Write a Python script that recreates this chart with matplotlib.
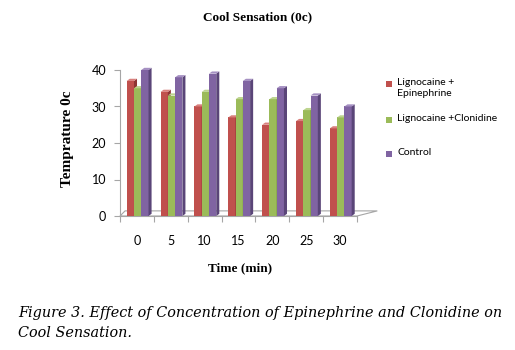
import numpy as np
import matplotlib
matplotlib.use("Agg")
import matplotlib.pyplot as plt
from matplotlib.patches import Rectangle, Polygon

times = ["0", "5", "10", "15", "20", "25", "30"]
series_names = ["Lignocaine +\nEpinephrine", "Lignocaine +Clonidine", "Control"]
epinephrine = [37, 34, 30, 27, 25, 26, 24]
clonidine = [35, 33, 34, 32, 32, 29, 27]
control = [40, 38, 39, 37, 35, 33, 30]
colors = ["#C0504D", "#9BBB59", "#8064A2"]
dark = ["#8E3533", "#6F8A3C", "#5A4578"]
top = ["#D9807D", "#BDD48F", "#A590C2"]

fig = plt.figure(figsize=(5.15, 3.5), dpi=100)
ax = fig.add_axes([120 / 515, 1 - 216 / 350, 237 / 515, 146 / 350])

x = np.arange(len(times))
w = 0.215
depth = 0.09   # fake 3d side width (in category units)
rise = 0.6     # fake 3d top rise (in data units)
for i, vals in enumerate([epinephrine, clonidine, control]):
    pos = x + (i - 1) * w + 0.02
    bars = ax.bar(pos, vals, width=w, color=colors[i], zorder=3 + i)
    for b in bars:
        b.set_clip_on(False)
    for p, v in zip(pos, vals):
        r = p + w / 2
        side = Polygon([(r, 0), (r + depth, rise), (r + depth, v + rise), (r, v)],
                       closed=True, fc=dark[i], ec="none", zorder=3 + i, clip_on=False)
        ax.add_patch(side)
        l = p - w / 2
        cap = Polygon([(l, v), (r, v), (r + depth, v + rise), (l + depth, v + rise)],
                      closed=True, fc=top[i], ec="none", zorder=3 + i, clip_on=False)
        ax.add_patch(cap)

# floor
floor = Polygon([(-0.5, 0), (6.5, 0), (7.1, 1.4), (-0.35, 1.4)], closed=True,
                fc="none", ec="#A6A6A6", lw=0.8, zorder=2, clip_on=False)
ax.add_patch(floor)

ax.set_xlim(-0.5, 6.5)
ax.set_ylim(0, 40)
ax.set_yticks([0, 10, 20, 30, 40])
ax.set_xticks(np.arange(-0.5, 7, 1), minor=False)
ax.set_xticklabels([])
ax.set_xticks(x, minor=True)
ax.set_xticklabels(times, minor=True)
ax.tick_params(axis="x", which="minor", length=0, pad=14, labelsize=9)
ax.tick_params(axis="x", which="major", length=4, color="#A6A6A6", direction="out")
ax.tick_params(axis="y", length=4, color="#A6A6A6", labelsize=9, pad=6)
for lab in ax.get_xticklabels(minor=True) + ax.get_yticklabels():
    lab.set_family("Lato")
for s in ["top", "right"]:
    ax.spines[s].set_visible(False)
ax.spines["left"].set_color("#A6A6A6")
ax.spines["bottom"].set_color("#A6A6A6")

fig.text(258 / 515, 1 - 17 / 350, "Cool Sensation (0c)", ha="center", va="center",
         family="Liberation Serif", weight="bold", fontsize=9.5)
fig.text(240 / 515, 1 - 268 / 350, "Time (min)", ha="center", va="center",
         family="Liberation Serif", weight="bold", fontsize=9.5)
fig.text(68 / 515, 1 - 139 / 350, "Temprature 0c", ha="center", va="center",
         rotation=90, family="Liberation Serif", weight="bold", fontsize=11)

# legend
leg_y = [84, 120, 154]
for c, name, yy in zip(colors, series_names, leg_y):
    fig.patches.append(Rectangle((386 / 515, 1 - (yy + 3) / 350), 6 / 515, 6 / 350,
                                 transform=fig.transFigure, fc=c, ec="none"))
    fig.text(397 / 515, 1 - (yy - 6) / 350, name, ha="left", va="top",
             family="Lato", fontsize=7.5, linespacing=1.35)

fig.text(18 / 515, 1 - 313 / 350,
         "Figure 3. Effect of Concentration of Epinephrine and Clonidine on",
         ha="left", va="center", family="DejaVu Serif", style="italic", fontsize=10.35)
fig.text(18 / 515, 1 - 333 / 350, "Cool Sensation.", ha="left", va="center",
         family="DejaVu Serif", style="italic", fontsize=10.35)

fig.savefig("out.png", dpi=100)
